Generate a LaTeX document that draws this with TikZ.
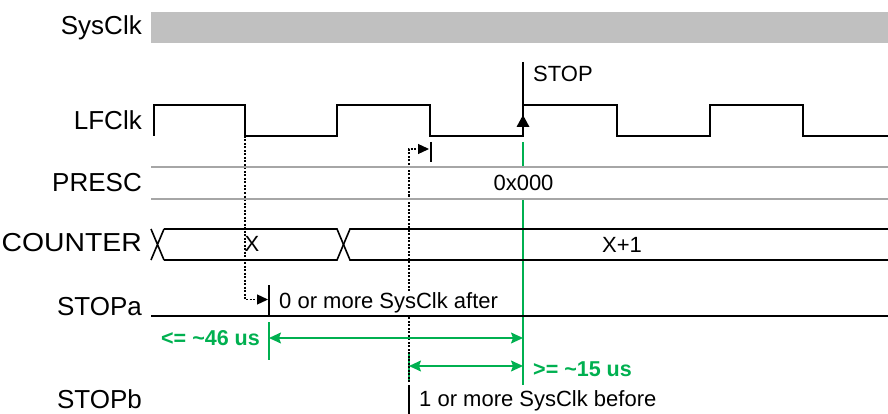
\documentclass[tikz,border=0pt]{standalone}
\usepackage{fontspec}
\usepackage{graphicx}
\setmainfont{Liberation Sans}
\usetikzlibrary{arrows.meta}
\definecolor{sgreen}{RGB}{0,176,80}
\definecolor{barGray}{RGB}{192,192,192}
\definecolor{lineGray}{RGB}{166,166,166}
\begin{document}
\begin{tikzpicture}[x=1pt,y=-1pt,
  lbl/.style={font=\fontsize{26}{30}\selectfont, anchor=base east, inner sep=0pt},
  ann/.style={font=\fontsize{22}{26}\selectfont, inner sep=0pt},
  gann/.style={inner sep=0pt, font=\fontsize{21.5}{26}\selectfont\bfseries, text=sgreen},
  wave/.style={line width=1.6pt, line join=miter},
  dots/.style={line width=1.3pt, dash pattern=on 2pt off 1.5pt},
  tickline/.style={line width=1.4pt},
  gline/.style={sgreen, line width=1.5pt},
  garrow/.style={sgreen, line width=1.5pt, {Stealth[length=12pt,width=11pt,inset=2pt]}-{Stealth[length=12pt,width=11pt,inset=2pt]}},
  darrow/.style={dots, -{Triangle[length=11pt,width=10pt]}},
]
\useasboundingbox (0,0) rectangle (888,414);

% signal labels
\node[lbl] (sysclk) at (142,34.5) {SysClk};
\node[lbl] (lfclk) at (142,130) {LFClk};
\node[lbl] (presc) at (142,192) {PRESC};
\node[lbl] (counter) at (142,251) {\scalebox{1.09}[1]{COUNTER}};
\node[lbl] (stopa) at (142,315) {STOPa};
\node[lbl] (stopb) at (142,408) {STOPb};

% SysClk bar
\fill[barGray] (151,12) rectangle (888,43);

% green lines (behind)
\draw[gline] (523,142) -- (523,167);
\draw[gline] (523,199) -- (523,385);
\draw[gline] (269,322) -- (269,360);
\draw[gline] (409,352) -- (409,382);

% dotted helper lines
\draw[darrow] (245,136) -- (245,299.5) -- (268,299.5);
\draw[darrow] (409,382) -- (409,149) -- (429,149);

% LFClk waveform
\draw[wave] (154,136) -- (154,105) -- (245,105) -- (245,136) -- (337,136) -- (337,105)
  -- (430,105) -- (430,136) -- (523,136) -- (523,105) -- (617,105) -- (617,136)
  -- (710,136) -- (710,105) -- (803,105) -- (803,136) -- (888,136);
\draw[wave] (523,62) -- (523,105);
\fill (523,115) -- (529.5,127) -- (516.5,127) -- cycle;
\node[ann, anchor=base west] (stoplbl) at (533,81.5) {STOP};
\draw[tickline] (431,142) -- (431,162);

% PRESC
\draw[lineGray, line width=1.2pt] (151,167) -- (888,167) (151,199) -- (888,199);
\node[ann, anchor=base] (prescv) at (523.5,190) {0x000};

% COUNTER
\draw[wave] (151,229) -- (164,260) (151,260) -- (164,229);
\draw[wave] (164,229) -- (337,229) -- (350,260) -- (888,260);
\draw[wave] (164,260) -- (337,260) -- (350,229) -- (888,229);
\node[ann, anchor=base] (cx) at (252,251.5) {X};
\node[ann, anchor=base] (cx1) at (622,252) {X+1};

% STOPa
\node[ann, anchor=base west, fill=white, inner sep=2pt] (after) at (277,308.5) {0 or more SysClk after};
\draw[wave] (151,316) -- (888,316);
\draw[tickline] (269,285) -- (269,316);

% timing arrows
\draw[garrow] (269,338) -- (523,338);
\draw[garrow] (409,366) -- (523,366);
\node[gann, anchor=base east] (d46) at (260,345) {<= \textasciitilde 46 us};
\node[gann, anchor=base west] (d15) at (533,376.5) {>= \textasciitilde 15 us};

% STOPb
\draw[tickline] (409,385) -- (409,414);
\node[ann, anchor=base west] (before) at (419,406.5) {1 or more SysClk before};
\end{tikzpicture}
\end{document}
